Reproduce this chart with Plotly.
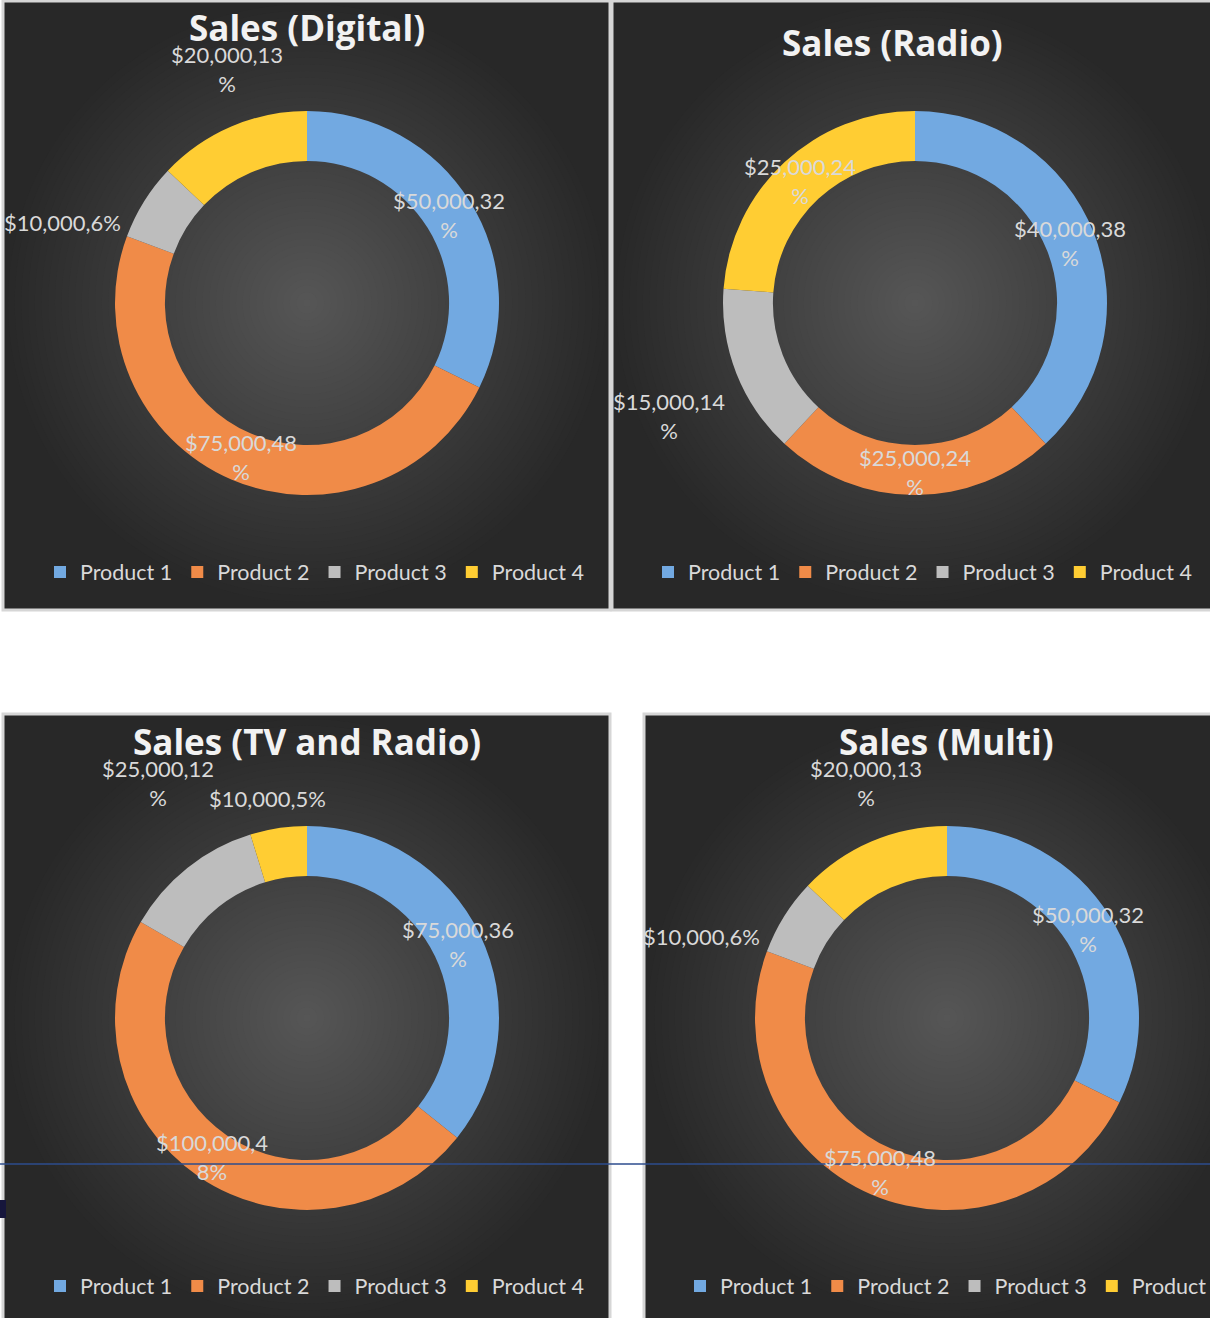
import plotly.graph_objects as go

W, H = 1210, 1318

# ---------------- data ----------------
products = ["Product 1", "Product 2", "Product 3", "Product 4"]
chart_titles = ["Sales (Digital)", "Sales (Radio)", "Sales (TV and Radio)", "Sales (Multi)"]
sales_digital = [50000, 75000, 10000, 20000]
sales_radio = [40000, 25000, 15000, 25000]
sales_tv_radio = [75000, 100000, 25000, 10000]
sales_multi = [50000, 75000, 10000, 20000]
series = [sales_digital, sales_radio, sales_tv_radio, sales_multi]

# ---------------- styling / layout ----------------
colors = ["#72a9e1", "#f08b48", "#bdbdbd", "#ffcd33"]
TITLE_FONT = "Open Sans"
FONT = "Lato"

# panel rectangles (pixels): x0, x1, y0, y1
panels = [(3, 610, 1, 610), (612, 1213, 1, 610), (3, 610, 714, 1321), (644, 1213, 714, 1321)]
centers = [(307, 303), (915, 303), (307, 1018), (947, 1018)]
R_OUT = 192
title_pos = [(307, 28), (892, 43), (307, 741), (946, 741)]
legend_pos = [(315, 572), (923, 572), (315, 1286), (955, 1286)]
# data label positions (pixels), per chart, per product
label_pos = [
    [(449, 215), (241, 457), (62, 222), (227, 69)],
    [(1070, 243), (915, 472), (669, 416), (800, 181)],
    [(458, 944), (212, 1157), (158, 783), (267, 798)],
    [(1088, 929), (880, 1172), (701, 936), (866, 783)],
]


def px(x):
    return x / W


def py(y):
    return 1 - y / H


def lerp_gray(a, b, t):
    v = int(round(a + (b - a) * t))
    return f"rgb({v},{v},{v})"


def label_text(v, total):
    s = f"${v:,},{round(100 * v / total)}%"
    if len(s) > 10:
        s = s[:10] + "<br>" + s[10:]
    return s


fig = go.Figure()
shapes = []
annotations = []

for i, vals in enumerate(series):
    x0, x1, y0, y1 = panels[i]
    cx, cy = centers[i]
    # panel
    shapes.append(dict(type="rect", xref="paper", yref="paper", layer="below",
                       x0=px(x0), x1=px(x1), y0=py(y1), y1=py(y0),
                       fillcolor="#282828", line=dict(color="#d6d6d6", width=3)))
    # radial gradient imitation (kept inside the panel)
    N = 45
    RMAX = 295
    for k in range(N):
        t = k / (N - 1)
        r = RMAX * (1 - t) + 4
        shapes.append(dict(type="circle", xref="paper", yref="paper", layer="below",
                           x0=px(cx - r), x1=px(cx + r), y0=py(cy + r), y1=py(cy - r),
                           fillcolor=lerp_gray(41, 86, t), line=dict(width=0)))
    legend_id = "legend" if i == 0 else f"legend{i + 1}"
    fig.add_trace(go.Pie(
        labels=products, values=vals, hole=0.74, sort=False, direction="clockwise",
        rotation=0, textinfo="none", hoverinfo="label+value+percent",
        marker=dict(colors=colors, line=dict(width=0)),
        domain=dict(x=[px(cx - R_OUT), px(cx + R_OUT)], y=[py(cy + R_OUT), py(cy - R_OUT)]),
        legend=legend_id, legendgroup=f"chart{i + 1}", showlegend=True, name=chart_titles[i],
    ))
    tx, ty = title_pos[i]
    annotations.append(dict(text=f"<b>{chart_titles[i]}</b>", x=px(tx), y=py(ty), xref="paper",
                            yref="paper", showarrow=False, xanchor="center", yanchor="middle",
                            font=dict(family=TITLE_FONT, size=35, color="#f2f2f2")))
    total = sum(vals)
    for j, v in enumerate(vals):
        lx, ly = label_pos[i][j]
        annotations.append(dict(text=label_text(v, total), x=px(lx), y=py(ly), xref="paper",
                                yref="paper", showarrow=False, xanchor="center", yanchor="middle",
                                font=dict(family=FONT, size=22, color="#d9d9d9")))

# top-layer decorations from the screenshot
shapes.append(dict(type="line", xref="paper", yref="paper", layer="above",
                   x0=0, x1=1, y0=py(1164), y1=py(1164), line=dict(color="#2c4d8e", width=1.5)))
shapes.append(dict(type="rect", xref="paper", yref="paper", layer="above",
                   x0=0, x1=px(6), y0=py(1218), y1=py(1200), fillcolor="#16163c", line=dict(width=0)))

legend_common = dict(orientation="h", traceorder="normal", xanchor="center", yanchor="middle",
                     bgcolor="rgba(0,0,0,0)", font=dict(family=FONT, size=21.5, color="#d9d9d9"),
                     itemclick=False, itemdoubleclick=False)
layout_legends = {}
for i in range(4):
    lid = "legend" if i == 0 else f"legend{i + 1}"
    lx, ly = legend_pos[i]
    layout_legends[lid] = dict(legend_common, x=px(lx), y=py(ly))

fig.update_layout(
    width=W, height=H,
    margin=dict(l=0, r=0, t=0, b=0, autoexpand=False),
    paper_bgcolor="white", plot_bgcolor="white",
    shapes=shapes, annotations=annotations,
    **layout_legends,
)

fig.write_html("out.html", config={"displayModeBar": False},
               post_script="document.body.style.margin='0';")
